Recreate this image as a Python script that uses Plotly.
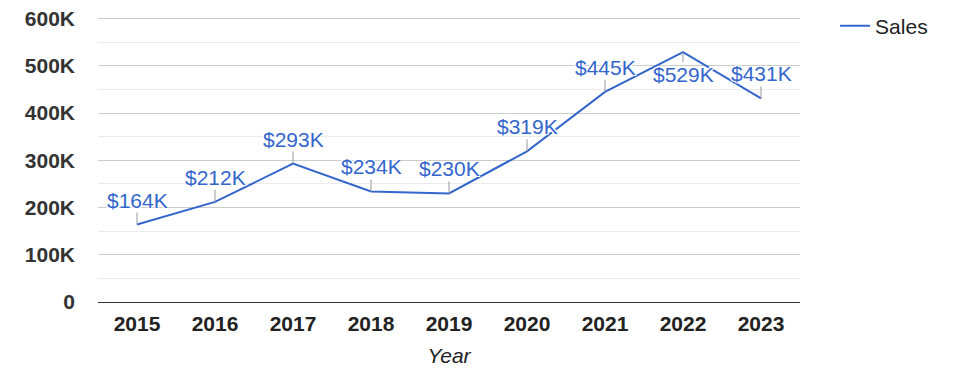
import plotly.graph_objects as go

years = ["2015", "2016", "2017", "2018", "2019", "2020", "2021", "2022", "2023"]
sales = [164000, 212000, 293000, 234000, 230000, 319000, 445000, 529000, 431000]
labels = ["$164K", "$212K", "$293K", "$234K", "$230K", "$319K", "$445K", "$529K", "$431K"]
label_below = [False, False, False, False, False, False, False, True, False]
y_tickvals = [0, 100000, 200000, 300000, 400000, 500000, 600000]
y_ticktext = ["0", "100K", "200K", "300K", "400K", "500K", "600K"]

BLUE = "#3366cc"
FONT = "Liberation Sans, Arial, sans-serif"
halo = "1px 1px 0 #fff, -1px -1px 0 #fff, 1px -1px 0 #fff, -1px 1px 0 #fff"

fig = go.Figure()
fig.add_trace(go.Scatter(
    x=years, y=sales, mode="lines", name="Sales",
    line=dict(color=BLUE, width=2),
))

for i, (y, t, below) in enumerate(zip(sales, labels, label_below)):
    fig.add_annotation(
        x=i, y=y, text=t, showarrow=True, arrowhead=0, arrowwidth=1,
        arrowcolor="#999999", ax=0, ay=(10 if below else -12),
        yanchor=("top" if below else "bottom"),
        font=dict(family=FONT, size=21, color=BLUE, shadow=halo),
        borderpad=0,
    )

fig.update_layout(
    width=975, height=378,
    margin=dict(l=98, r=175, t=17, b=76, autoexpand=False),
    paper_bgcolor="white", plot_bgcolor="white",
    font=dict(family=FONT, size=21, color="#222222"),
    showlegend=True,
    legend=dict(x=1.05, y=1.04, xanchor="left", yanchor="top",
                font=dict(family=FONT, size=21, color="#222222"),
                bgcolor="rgba(0,0,0,0)"),
    xaxis=dict(
        type="category", range=[-0.5, 8.5], automargin=False,
        showgrid=False, showline=True, linecolor="#333333", linewidth=1,
        ticks="", ticklabelstandoff=3,
        tickfont=dict(family=FONT, size=21, color="#222222", weight="bold"),
        title=dict(text="Year", font=dict(family=FONT, size=21, color="#222222", style="italic"), standoff=14),
        fixedrange=True,
    ),
    yaxis=dict(
        range=[0, 603500], tickvals=y_tickvals, ticktext=y_ticktext, automargin=False,
        showgrid=True, gridcolor="#cccccc", gridwidth=1,
        minor=dict(dtick=50000, showgrid=True, gridcolor="#ebebeb", gridwidth=1),
        zeroline=False, showline=False, ticks="",
        tickfont=dict(family=FONT, size=21, color="#333333", weight="bold"),
        ticklabelstandoff=22,
        fixedrange=True,
    ),
)

fig.write_html("out.html", config={"displayModeBar": False},
               post_script="document.body.style.margin='0';")
